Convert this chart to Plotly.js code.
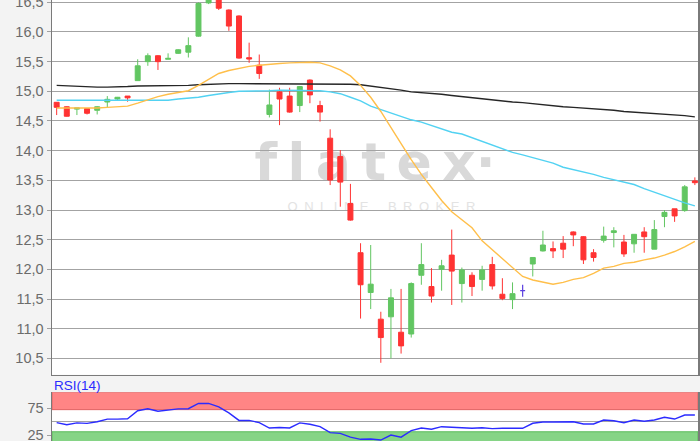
<!DOCTYPE html>
<html>
<head>
<meta charset="utf-8">
<script src="https://cdn.plot.ly/plotly-3.0.1.min.js"></script>
<style>
html,body{margin:0;padding:0;background:#f3f3f3;}
#chart{width:700px;height:441px;}
</style>
</head>
<body>
<div id="chart"></div>
<script>
// Session index (one candle per session)
const sessions = [1,2,3,4,5,6,7,8,9,10,11,12,13,14,15,16,17,18,19,20,21,22,23,24,25,26,27,28,29,30,31,32,
  33,34,35,36,37,38,39,40,41,42,43,44,45,46,47,48,49,50,51,52,53,54,55,56,57,58,59,60,61,62,63,64];

const openP  = [14.815,14.74,14.70,14.71,14.68,14.82,14.87,14.92,15.18,15.50,15.60,15.54,15.64,15.66,15.93,16.49,
  16.60,16.37,16.27,15.567,15.44,14.61,14.99,14.92,14.76,15.19,14.76,14.21,13.90,13.11,12.28,11.61,
  11.16,11.20,10.94,10.91,11.90,11.71,12.00,12.24,11.76,11.90,11.83,12.08,11.58,11.49,11.64,12.09,
  12.31,12.35,12.44,12.63,12.55,12.28,12.49,12.62,12.46,12.43,12.63,12.34,12.89,13.02,12.99,13.49];
const highP  = [14.82,14.745,14.72,14.71,14.75,14.92,14.905,14.92,15.54,15.64,15.61,15.64,15.71,15.91,16.50,16.62,
  16.62,16.38,16.28,15.82,15.62,15.03,15.06,15.06,15.09,15.20,14.84,14.36,14.01,13.44,12.44,12.41,
  11.285,11.67,11.67,11.78,12.44,12.02,12.16,12.67,12.03,11.95,12.06,12.21,11.85,11.78,11.74,12.20,
  12.65,12.47,12.56,12.64,12.56,12.34,12.72,12.71,12.58,12.59,12.71,12.83,13.00,13.02,13.42,13.55];
const lowP   = [14.60,14.575,14.60,14.61,14.61,14.73,14.84,14.825,15.18,15.43,15.36,15.54,15.63,15.57,15.92,16.47,
  16.37,16.02,15.55,15.48,15.21,14.56,14.43,14.64,14.65,14.80,14.49,13.42,13.055,12.82,11.17,11.33,
  10.425,10.50,10.58,10.85,11.74,11.44,11.64,11.40,11.44,11.55,11.64,11.66,11.48,11.33,11.54,11.88,
  12.30,12.19,12.19,12.39,12.09,12.13,12.45,12.37,12.21,12.28,12.28,12.34,12.71,12.80,12.97,13.42];
const closeP = [14.73,14.58,14.72,14.63,14.74,14.865,14.90,14.89,15.43,15.60,15.50,15.555,15.70,15.77,16.48,16.58,
  16.40,16.10,15.56,15.545,15.30,14.77,14.87,14.65,15.08,14.94,14.65,13.505,13.47,12.83,11.74,11.75,
  10.85,11.52,10.71,11.76,12.08,11.55,12.06,11.97,11.99,11.71,11.99,11.72,11.51,11.59,11.64,12.20,
  12.41,12.31,12.34,12.58,12.16,12.20,12.56,12.65,12.26,12.59,12.55,12.67,12.96,12.90,13.39,13.46];

// Moving averages
const maLong = [15.10,15.09,15.08,15.07,15.07,15.07,15.07,15.08,15.09,15.09,15.09,15.09,15.09,15.10,15.11,15.12,
  15.13,15.13,15.13,15.13,15.13,15.13,15.13,15.13,15.13,15.13,15.13,15.13,15.12,15.12,15.11,15.09,
  15.07,15.05,15.02,14.99,14.98,14.97,14.95,14.93,14.91,14.90,14.87,14.85,14.84,14.82,14.81,14.79,
  14.77,14.76,14.74,14.73,14.72,14.70,14.69,14.68,14.66,14.65,14.63,14.62,14.61,14.60,14.59,14.57];
const maMid  = [14.85,14.85,14.85,14.85,14.85,14.84,14.84,14.84,14.84,14.84,14.85,14.85,14.87,14.88,14.90,14.93,
  14.96,14.98,15.00,15.00,15.01,15.01,15.02,15.02,15.02,15.02,15.01,14.99,14.96,14.90,14.84,14.75,
  14.69,14.63,14.58,14.52,14.48,14.42,14.36,14.31,14.28,14.22,14.15,14.10,14.04,13.97,13.93,13.88,
  13.84,13.79,13.72,13.68,13.65,13.60,13.55,13.51,13.47,13.43,13.36,13.30,13.24,13.17,13.12,13.07];
const maShort= [14.72,14.72,14.71,14.71,14.72,14.73,14.74,14.75,14.80,14.86,14.91,14.95,14.98,15.01,15.10,15.20,
  15.30,15.35,15.39,15.42,15.44,15.46,15.47,15.48,15.49,15.49,15.48,15.43,15.36,15.26,15.10,14.90,
  14.66,14.40,14.12,13.85,13.60,13.38,13.16,12.97,12.83,12.70,12.48,12.33,12.19,12.04,11.88,11.82,
  11.78,11.75,11.78,11.83,11.86,11.93,12.02,12.05,12.10,12.12,12.16,12.19,12.24,12.30,12.38,12.47];

// RSI(14)
const rsi = [48,44,47.5,46.5,49.5,54.5,54.5,55,70,73.5,69,71.5,73.5,73.7,83.5,83.5,
  77,66,52,52,48,38,39,38,47.5,45,40.4,29.3,28,21,17,17.6,
  15.7,25,21,33,38,35.6,40.4,39.5,38.5,37.4,38.5,36.8,37.4,37.4,37.4,46.7,
  49,49,49.3,49.6,45.4,45.4,52.8,51.5,47.8,52.8,50.4,52.8,57.8,54.6,62,62];

const priceTicks = [10.5,11.0,11.5,12.0,12.5,13.0,13.5,14.0,14.5,15.0,15.5,16.0,16.5];
const rsiTicks = [25,75];
const rsiMid = 50;
const rsiUpper = 72, rsiLower = 31;

// split regular candles and doji
const reg = {x:[],o:[],h:[],l:[],c:[]}, doji = {x:[],o:[],h:[],l:[],c:[]};
sessions.forEach((s,i)=>{
  const t = (openP[i]===closeP[i]) ? doji : reg;
  t.x.push(s); t.o.push(openP[i]); t.h.push(highP[i]); t.l.push(lowP[i]); t.c.push(closeP[i]);
});

const GREEN='#62c662', RED='#ff3333', PURPLE='#5b3fe0';
const tickFont = {family:'Liberation Sans, Arial, sans-serif', size:14.5, color:'#6b6b6b'};

const traces = [
  {type:'candlestick', x:reg.x, open:reg.o, high:reg.h, low:reg.l, close:reg.c, xaxis:'x', yaxis:'y',
   increasing:{line:{color:GREEN,width:1}, fillcolor:GREEN},
   decreasing:{line:{color:RED,width:1}, fillcolor:RED}, whiskerwidth:0, hoverinfo:'skip'},
  {type:'candlestick', x:doji.x, open:doji.o, high:doji.h, low:doji.l, close:doji.c, xaxis:'x', yaxis:'y',
   increasing:{line:{color:PURPLE,width:1.2}, fillcolor:PURPLE},
   decreasing:{line:{color:PURPLE,width:1.2}, fillcolor:PURPLE}, whiskerwidth:0, hoverinfo:'skip'},
  {type:'scatter', mode:'lines', x:sessions, y:maLong, xaxis:'x', yaxis:'y', line:{color:'#262626', width:1.4}},
  {type:'scatter', mode:'lines', x:sessions, y:maMid, xaxis:'x', yaxis:'y', line:{color:'#52d2f2', width:1.4}},
  {type:'scatter', mode:'lines', x:sessions, y:maShort, xaxis:'x', yaxis:'y', line:{color:'#ffbf4a', width:1.4}},
  {type:'scatter', mode:'lines', x:sessions, y:rsi, xaxis:'x2', yaxis:'y2', line:{color:'#2b2bff', width:1.4}}
];

const xRange = [0.54, 64.31];
const layout = {
  width:700, height:441,
  margin:{l:52, r:2, t:0, b:0},
  paper_bgcolor:'#f3f3f3', plot_bgcolor:'#ffffff',
  separators:',.',
  showlegend:false,
  hovermode:false,
  xaxis:{domain:[0,1], anchor:'y', range:xRange, showticklabels:false, ticks:'', showgrid:false, zeroline:false,
         showline:true, linecolor:'#7a7a7a', linewidth:1.5, rangeslider:{visible:false}},
  yaxis:{domain:[0.1503,1], anchor:'x', range:[10.224,16.539], tickvals:priceTicks, tickformat:'.1f',
         ticks:'outside', ticklen:4, tickcolor:'#a0a0a0', showgrid:true, gridcolor:'#a3a3a3', gridwidth:1,
         showline:true, linecolor:'#7a7a7a', linewidth:1.5, mirror:true, zeroline:false, tickfont:tickFont,
         ticklabeloverflow:'allow'},
  xaxis2:{domain:[0,1], anchor:'y2', range:xRange, showticklabels:false, ticks:'', showgrid:false, zeroline:false, showline:false},
  yaxis2:{domain:[0,0.1104], anchor:'x2', range:[13.9,104.1], tickvals:rsiTicks,
          ticks:'outside', ticklen:4, tickcolor:'#a0a0a0', showgrid:false,
          showline:true, linecolor:'#7a7a7a', linewidth:1.5, mirror:true, zeroline:false, tickfont:tickFont,
          ticklabeloverflow:'allow'},
  shapes:[
    {type:'rect', xref:'x domain', yref:'y domain', x0:0.2, x1:0.8, y0:0.523, y1:0.633, layer:'below',
     line:{width:0}, fillcolor:'rgba(0,0,0,0)',
     label:{text:'f\u2009l\u2009a\u2009t\u2009e\u2009x·', textposition:'middle center',
            font:{family:'DejaVu Sans, Liberation Sans, sans-serif', size:52, color:'#d9d9d9', weight:'bold'}}},
    {type:'rect', xref:'x domain', yref:'y domain', x0:0.3, x1:0.72, y0:0.43, y1:0.472, layer:'below',
     line:{width:0}, fillcolor:'rgba(0,0,0,0)',
     label:{text:'O\u2002N\u2002L\u2002I\u2002N\u2002E\u2002\u2002\u2002B\u2002R\u2002O\u2002K\u2002E\u2002R', textposition:'middle center',
            font:{family:'Liberation Sans, Arial, sans-serif', size:13, color:'#e3e3e3'}}},
    {type:'line', xref:'x2 domain', yref:'y2', x0:0, x1:1, y0:rsiMid, y1:rsiMid, layer:'below',
     line:{color:'#a3a3a3', width:1}},
    {type:'rect', xref:'x2 domain', yref:'y2', x0:0, x1:1, y0:rsiUpper, y1:104.1, layer:'below',
     fillcolor:'#ff8585', line:{color:'#e06262', width:1}},
    {type:'rect', xref:'x2 domain', yref:'y2', x0:0, x1:1, y0:10, y1:rsiLower, layer:'below',
     fillcolor:'#86d486', line:{color:'#5cbc5c', width:1}}
  ],
  annotations:[
    {text:'RSI(14)', xref:'paper', yref:'paper', x:0, y:0.1254, xanchor:'left', yanchor:'middle', xshift:0,
     showarrow:false, font:{family:'Liberation Sans, Arial, sans-serif', size:13.5, color:'#2b2bff'}}
  ]
};

Plotly.newPlot('chart', traces, layout, {staticPlot:true, displayModeBar:false});
</script>
</body>
</html>
